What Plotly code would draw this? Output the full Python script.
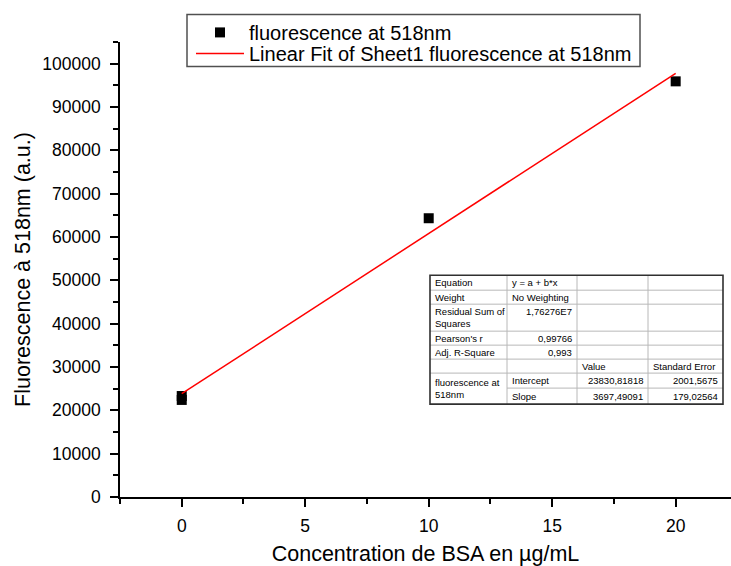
import plotly.graph_objects as go

# ---------------- data ----------------
concentration = [0, 0, 10, 20]
fluorescence = [23300, 22400, 64330, 95920]

fit_intercept = 23830.81818
fit_slope = 3697.49091
fit_x = [0, 20]

series_name = "fluorescence at 518nm"
fit_name = "Linear Fit of Sheet1 fluorescence at 518nm"

x_title = "Concentration de BSA en µg/mL"
y_title = "Fluorescence à 518nm (a.u.)"

x_ticks = [0, 5, 10, 15, 20]
y_ticks = [0, 10000, 20000, 30000, 40000, 50000, 60000, 70000, 80000, 90000, 100000]

# fit report table (row label, col2, col3, col4)
table_col1 = ["Equation", "Weight", "Residual Sum of<br>Squares", "Pearson's r", "Adj. R-Square", "", "fluorescence at<br>518nm", ""]
table_col2 = ["y = a + b*x", "No Weighting", "1,76276E7", "0,99766", "0,993", "", "Intercept", "Slope"]
table_col3 = ["", "", "", "", "", "Value", "23830,81818", "3697,49091"]
table_col4 = ["", "", "", "", "", "Standard Error", "2001,5675", "179,02564"]

# ---------------- layout geometry (pixels) ----------------
W, H = 731, 566
PL, PR, PT, PB = 120, 731, 41.6, 497
FONT = "Arial, Liberation Sans, sans-serif"

def px(x):
    return (x - PL) / (PR - PL)

def py(y):
    return (PB - y) / (PB - PT)

fit_y = [fit_intercept + fit_slope * v for v in fit_x]

fig = go.Figure()
fig.add_trace(go.Scatter(
    x=concentration, y=fluorescence, mode="markers", name=series_name,
    marker=dict(symbol="square", size=10, color="black"), legend="legend",
))
fig.add_trace(go.Scatter(
    x=fit_x, y=fit_y, mode="lines", name=fit_name,
    line=dict(color="#ff0000", width=1.5), legend="legend2",
))

shapes = []
# legend frame
shapes.append(dict(type="rect", xref="paper", yref="paper",
                   x0=px(187), x1=px(640), y0=py(14), y1=py(66),
                   fillcolor="white", line=dict(color="#505050", width=1.5), layer="above"))

# ---------------- table ----------------
col_edges = [430, 507, 577, 648, 723]
row_edges = [275, 290, 304, 331, 345, 359, 373, 388, 404]
inner = dict(color="#b8b8b8", width=1)
for cx in col_edges[1:-1]:
    shapes.append(dict(type="line", xref="paper", yref="paper",
                       x0=px(cx), x1=px(cx), y0=py(row_edges[0]), y1=py(row_edges[-1]), line=inner))
for i, ry in enumerate(row_edges[1:-1], start=1):
    x_start = col_edges[1] if i == 7 else col_edges[0]
    shapes.append(dict(type="line", xref="paper", yref="paper",
                       x0=px(x_start), x1=px(col_edges[-1]), y0=py(ry), y1=py(ry), line=inner))
shapes.append(dict(type="rect", xref="paper", yref="paper",
                   x0=px(col_edges[0]), x1=px(col_edges[-1]), y0=py(row_edges[0]), y1=py(row_edges[-1]),
                   line=dict(color="#303030", width=1.6), layer="above"))

annotations = []
tfont = dict(family=FONT, size=9.5, color="black")
numeric_right = {(2, 1), (3, 1), (4, 1), (6, 2), (7, 2), (6, 3), (7, 3)}
cols = [table_col1, table_col2, table_col3, table_col4]
for c, col in enumerate(cols):
    for r, txt in enumerate(col):
        if not txt:
            continue
        top, bot = row_edges[r], row_edges[r + 1]
        if c == 0 and r == 6:
            bot = row_edges[8]
        if (r, c) in numeric_right:
            xa, xanchor = col_edges[c + 1] - 3, "right"
        else:
            xa, xanchor = col_edges[c] + 3, "left"
        if r == 2 and c == 1:
            yc = top + 7
        else:
            yc = (top + bot) / 2
        annotations.append(dict(
            xref="paper", yref="paper", x=px(xa), y=py(yc), text=txt,
            xanchor=xanchor, yanchor="middle", align="left", showarrow=False,
            font=tfont,
        ))

axis_common = dict(
    showline=True, linecolor="black", linewidth=1.5, mirror=False,
    showgrid=False, zeroline=False, automargin=False,
    ticks="outside", ticklen=8, tickwidth=1.5, tickcolor="black",
    tickfont=dict(family=FONT, size=17.5, color="black"),
)

legend_common = dict(
    xanchor="left", yanchor="middle",
    bgcolor="rgba(0,0,0,0)", borderwidth=0,
    font=dict(family=FONT, size=20, color="black"),
    itemwidth=48, tracegroupgap=0,
)

fig.update_layout(
    width=W, height=H,
    margin=dict(l=PL, r=W - PR, t=PT, b=H - PB, autoexpand=False),
    paper_bgcolor="white", plot_bgcolor="white",
    font=dict(family=FONT, color="black"),
    xaxis=dict(
        range=[-2.5, 22.24], tickvals=x_ticks,
        minor=dict(dtick=2.5, tick0=0, ticks="outside", ticklen=5, tickwidth=1.5, tickcolor="black"),
        title=dict(text=x_title, font=dict(family=FONT, size=21.5, color="black"), standoff=13),
        ticklabelstandoff=4,
        **axis_common,
    ),
    yaxis=dict(
        range=[0, 105000], tickvals=y_ticks, tickformat="d",
        minor=dict(dtick=5000, tick0=0, ticks="outside", ticklen=5, tickwidth=1.5, tickcolor="black"),
        title=dict(text=y_title, font=dict(family=FONT, size=21.5, color="black"), standoff=6),
        ticklabelstandoff=6,
        **axis_common,
    ),
    legend=dict(x=px(191), y=py(32), **legend_common),
    legend2=dict(x=px(191), y=py(53), **legend_common),
    shapes=shapes,
    annotations=annotations,
    showlegend=True,
)

fig.write_html(
    "out.html",
    config={"displayModeBar": False},
    post_script="document.body.style.margin='0';document.body.style.overflow='hidden';",
)
